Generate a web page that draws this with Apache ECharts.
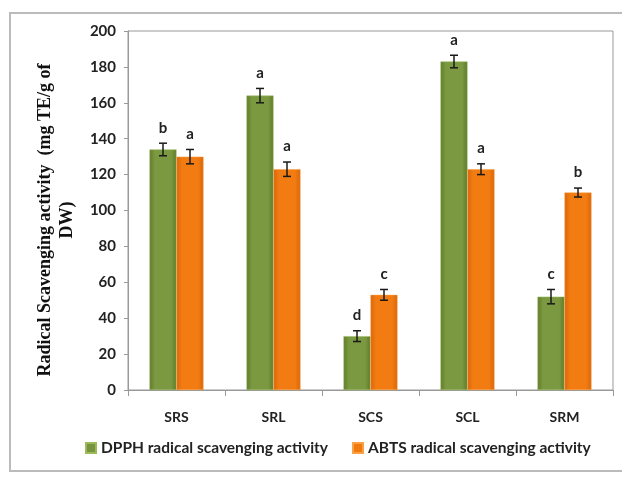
<!DOCTYPE html>
<html>
<head>
<meta charset="utf-8">
<script src="https://cdn.jsdelivr.net/npm/echarts@6/dist/echarts.min.js"></script>
<style>
  html, body { margin: 0; padding: 0; background: #fff; }
  #chart { width: 622px; height: 477px; }
</style>
</head>
<body>
<div id="chart"></div>
<script>
// data
const categories = ['SRS', 'SRL', 'SCS', 'SCL', 'SRM']
const dpph = [134, 164, 30, 183, 52]
const dpphErr = [3.5, 4, 3, 3.5, 4]
const dpphLetters = ['b', 'a', 'd', 'a', 'c']
const abts = [130, 123, 53, 123, 110]
const abtsErr = [4, 4, 3, 3, 2.5]
const abtsLetters = ['a', 'a', 'c', 'a', 'b']
const yTicks = [0, 20, 40, 60, 80, 100, 120, 140, 160, 180, 200]

const chart = echarts.init(document.getElementById('chart'))
const barW = 27
const green = '#77933c'
const orange = '#f07a10'

function barGradient(edge, mid) {
  return new echarts.graphic.LinearGradient(0, 0, 1, 0, [
    { offset: 0, color: edge },
    { offset: 0.2, color: mid },
    { offset: 0.8, color: mid },
    { offset: 1, color: edge }
  ])
}

// error bars + letters for one series, shifted by dx from category centre
function errorSeries(name, values, errs, letters, dx) {
  return {
    type: 'custom',
    name: name + '-err',
    z: 5,
    data: values.map((v, i) => [i, v, errs[i]]),
    renderItem(params, api) {
      const i = api.value(0)
      const v = api.value(1)
      const e = api.value(2)
      const top = api.coord([i, v + e])
      const bot = api.coord([i, v - e])
      const x = top[0] + dx
      const cap = 4
      const style = { stroke: '#1a1a1a', lineWidth: 1.5 }
      return {
        type: 'group',
        children: [
          { type: 'line', shape: { x1: x, y1: top[1], x2: x, y2: bot[1] }, style },
          { type: 'line', shape: { x1: x - cap, y1: top[1], x2: x + cap, y2: top[1] }, style },
          { type: 'line', shape: { x1: x - cap, y1: bot[1], x2: x + cap, y2: bot[1] }, style },
          {
            type: 'text',
            x: x,
            y: top[1] - 8,
            style: {
              text: letters[params.dataIndex],
              fontFamily: 'Lato',
              fontWeight: 'bold',
              fontSize: 15,
              fill: '#222',
              align: 'center',
              verticalAlign: 'bottom'
            }
          }
        ]
      }
    }
  }
}

const option = {
  animation: false,
  backgroundColor: '#fff',
  grid: {
    left: 128,
    right: 9,
    top: 31,
    bottom: 87,
    show: true,
    borderColor: '#999',
    borderWidth: 1
  },
  graphic: [
    {
      type: 'rect',
      shape: { x: 10, y: 13, width: 640, height: 458 },
      style: { fill: 'none', stroke: '#bbb', lineWidth: 2 },
      silent: true
    },
    {
      type: 'text',
      x: 56,
      y: 220,
      rotation: Math.PI / 2,
      style: {
        text: 'Radical Scavenging activity  (mg TE/g of\nDW)',
        fontFamily: 'Liberation Serif',
        fontWeight: 'bold',
        fontSize: 18,
        lineHeight: 22,
        fill: '#111',
        align: 'center',
        verticalAlign: 'middle'
      }
    }
  ],
  legend: {
    bottom: 16,
    left: 80,
    itemWidth: 10,
    itemHeight: 10,
    itemGap: 24,
    icon: 'rect',
    textStyle: { fontFamily: 'Lato', fontWeight: 'bold', fontSize: 15.5, color: '#222' },
    data: [
      { name: 'DPPH radical scavenging activity', itemStyle: { color: green } },
      { name: 'ABTS radical scavenging activity', itemStyle: { color: orange } }
    ]
  },
  xAxis: {
    type: 'category',
    data: categories,
    axisLine: { lineStyle: { color: '#999' } },
    axisTick: { show: true, length: 6, lineStyle: { color: '#999' } },
    axisLabel: {
      margin: 20,
      fontFamily: 'Lato',
      fontWeight: 'bold',
      fontSize: 14,
      color: '#222'
    }
  },
  yAxis: {
    type: 'value',
    min: yTicks[0],
    max: yTicks[yTicks.length - 1],
    interval: 20,
    axisLine: { show: true, lineStyle: { color: '#999' } },
    axisTick: { show: true, length: 4, lineStyle: { color: '#999' } },
    splitLine: { show: false },
    axisLabel: {
      margin: 12,
      fontFamily: 'Lato',
      fontWeight: 'bold',
      fontSize: 15,
      color: '#222'
    }
  },
  series: [
    {
      type: 'bar',
      name: 'DPPH radical scavenging activity',
      data: dpph,
      barWidth: barW,
      barGap: '0%',
      itemStyle: { color: barGradient('#5f7a2b', '#7b9940'), borderColor: '#9bbb59', borderWidth: 0.5 }
    },
    {
      type: 'bar',
      name: 'ABTS radical scavenging activity',
      data: abts,
      barWidth: barW,
      barGap: '0%',
      itemStyle: { color: barGradient('#d8650a', '#f27c12'), borderColor: '#f9a045', borderWidth: 0.5 }
    },
    errorSeries('DPPH', dpph, dpphErr, dpphLetters, -barW / 2),
    errorSeries('ABTS', abts, abtsErr, abtsLetters, barW / 2)
  ]
}

chart.setOption(option)
</script>
</body>
</html>
